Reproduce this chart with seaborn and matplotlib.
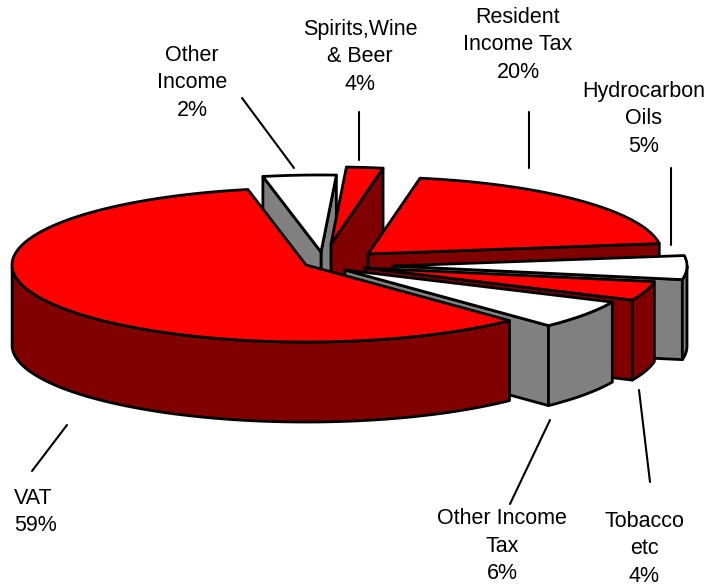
import numpy as np
import matplotlib
matplotlib.use("Agg")
import matplotlib.pyplot as plt
from matplotlib.patches import Polygon
import seaborn as sns

# slices clockwise from the back, VAT is painted last
names = ["Other\nIncome", "Spirits,Wine\n& Beer", "Resident\nIncome Tax", "Hydrocarbon\nOils",
         "Tobacco\netc", "Other Income\nTax", "VAT"]
percent_labels = ["2%", "4%", "20%", "5%", "4%", "6%", "59%"]
# sweep drawn in the picture: white slice is the wider one of the two small slices
drawn_values = [4, 2, 20, 5, 4, 6, 59]
top_colors = ["#ffffff", "#ff0000", "#ff0000", "#ffffff", "#ff0000", "#ffffff", "#ff0000"]
wall_colors = ["#808080", "#800000", "#800000", "#808080", "#800000", "#808080", "#800000"]

explode_x = [15, 25, 62, 87, 59, 39, 0]
explode_y = [-13, -21, -11, 1, 3, 5, 0]
label_x = [192, 360, 518, 644, 644, 502, 14]
label_y = [83, 57, 45, 119, 549, 546, 512]
label_align = ["center"] * 6 + ["left"]
leader_x = [(242, 294), (359, 359), (529, 529), (671, 671), (650, 639), (510, 550), (32, 67)]
leader_y = [(98, 168), (112, 160), (112, 168), (168, 245), (482, 390), (504, 420), (471, 425)]

center_x, center_y = 306, 265
radius, squash, depth = 294, 0.262, 80
start_angle = 101.4

sns.set_theme(style="white")
plt.rcParams["font.family"] = ["Liberation Sans", "DejaVu Sans"]

fig = plt.figure(figsize=(7.09, 5.86), dpi=100)
ax = fig.add_axes([0, 0, 1, 1])
ax.set_xlim(0, 709)
ax.set_ylim(586, 0)
ax.axis("off")

style = dict(edgecolor="black", linewidth=2.0, joinstyle="round")


def rim(c, angles):
    t = np.radians(angles)
    return np.c_[c[0] + radius * np.cos(t), c[1] - radius * squash * np.sin(t)]


angle = start_angle
for v, tc, wc, ex, ey in zip(drawn_values, top_colors, wall_colors, explode_x, explode_y):
    a1 = angle
    a0 = angle - v * 3.6
    angle = a0
    c = np.array([center_x + ex, center_y + ey])
    down = np.array([0, depth])
    angles = np.linspace(a0, a1, 120)
    outer = rim(c, angles)

    # radial walls, only the ones that face the viewer
    for a, visible in ((a0, np.cos(np.radians(a0)) > 0), (a1, np.cos(np.radians(a1)) < 0)):
        if visible:
            p = rim(c, np.array([a]))[0]
            ax.add_patch(Polygon([c, p, p + down, c + down], facecolor=wc, **style))

    front = outer[np.sin(np.radians(angles)) < 0]
    if len(front):
        ax.add_patch(Polygon(np.r_[front, (front + down)[::-1]], facecolor=wc, **style))
    ax.add_patch(Polygon(np.r_[[c], outer], facecolor=tc, **style))

for xs, ys in zip(leader_x, leader_y):
    ax.plot(xs, ys, color="black", linewidth=1.5)

for n, p, x, y, ha in zip(names, percent_labels, label_x, label_y, label_align):
    ax.text(x, y, n + "\n" + p, ha=ha, va="center", multialignment=ha, fontsize=15.5,
            color="black", linespacing=1.4)

fig.savefig("out.png", dpi=100)
